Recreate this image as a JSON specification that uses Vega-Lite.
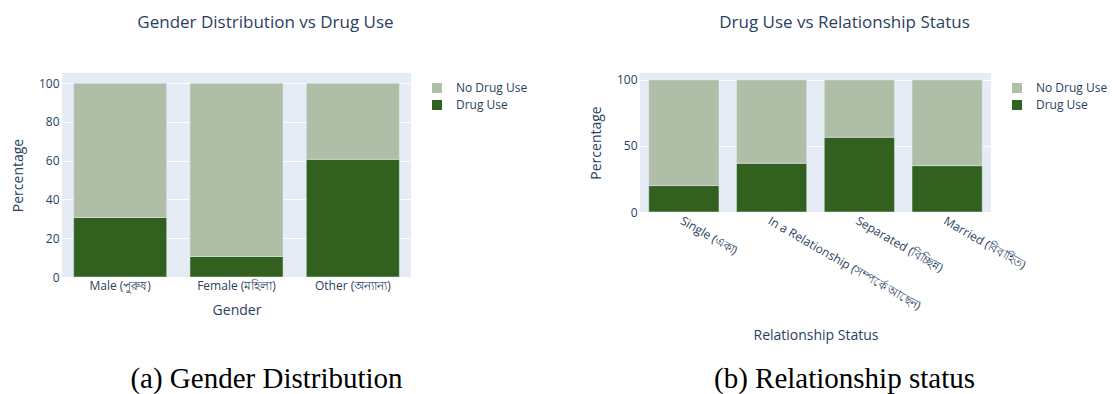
{
  "$schema": "https://vega.github.io/schema/vega-lite/v6.json",
  "background": "white",
  "padding": {"left": 11, "top": 14, "right": 4, "bottom": 0},
  "datasets": {
    "gender": [
      {"gender": "Male (পুরুষ)", "use": "Drug Use", "pct": 30.7},
      {"gender": "Male (পুরুষ)", "use": "No Drug Use", "pct": 69.3},
      {"gender": "Female (মহিলা)", "use": "Drug Use", "pct": 10.6},
      {"gender": "Female (মহিলা)", "use": "No Drug Use", "pct": 89.4},
      {"gender": "Other (অন্যান্য)", "use": "Drug Use", "pct": 60.7},
      {"gender": "Other (অন্যান্য)", "use": "No Drug Use", "pct": 39.3}
    ],
    "relationship": [
      {"status": "Single (একা)", "use": "Drug Use", "pct": 20.0},
      {"status": "Single (একা)", "use": "No Drug Use", "pct": 80.0},
      {"status": "In a Relationship (সম্পর্কে আছেন)", "use": "Drug Use", "pct": 36.9},
      {"status": "In a Relationship (সম্পর্কে আছেন)", "use": "No Drug Use", "pct": 63.1},
      {"status": "Separated (বিচ্ছিন্ন)", "use": "Drug Use", "pct": 56.6},
      {"status": "Separated (বিচ্ছিন্ন)", "use": "No Drug Use", "pct": 43.4},
      {"status": "Married (বিবাহিত)", "use": "Drug Use", "pct": 35.1},
      {"status": "Married (বিবাহিত)", "use": "No Drug Use", "pct": 64.9}
    ],
    "captions": [
      {"panel": "a", "caption": "(a) Gender Distribution"},
      {"panel": "b", "caption": "(b) Relationship status"}
    ]
  },
  "columns": 2,
  "spacing": {"column": 229, "row": 92},
  "bounds": "flush",
  "resolve": {"scale": {"color": "independent"}, "legend": {"color": "independent"}},
  "concat": [
    {
      "title": {"text": "Gender Distribution vs Drug Use"},
      "width": 349,
      "height": 204,
      "data": {"name": "gender"},
      "mark": {"type": "bar", "stroke": "#E5ECF6", "strokeWidth": 0.5},
      "encoding": {
        "x": {
          "field": "gender", "type": "nominal", "sort": null,
          "scale": {"paddingInner": 0.2, "paddingOuter": 0.1},
          "axis": {"title": "Gender", "labelAngle": 0, "titlePadding": 12}
        },
        "y": {
          "field": "pct", "type": "quantitative", "stack": "zero",
          "scale": {"domain": [0, 105.26], "nice": false},
          "axis": {"title": "Percentage", "values": [0, 20, 40, 60, 80, 100], "titlePadding": 13}
        },
        "color": {
          "field": "use", "type": "nominal",
          "scale": {"domain": ["No Drug Use", "Drug Use"], "range": ["#afbea6", "#31601f"]},
          "legend": {"title": null, "orient": "none", "legendX": 369, "legendY": 9}
        },
        "order": {"field": "use", "sort": "ascending"}
      }
    },
    {
      "title": {"text": "Drug Use vs Relationship Status"},
      "width": 351,
      "height": 139,
      "data": {"name": "relationship"},
      "mark": {"type": "bar", "stroke": "#E5ECF6", "strokeWidth": 0.5},
      "encoding": {
        "x": {
          "field": "status", "type": "nominal", "sort": null,
          "scale": {"paddingInner": 0.2, "paddingOuter": 0.1},
          "axis": {"title": "Relationship Status", "labelAngle": 30, "titlePadding": 17}
        },
        "y": {
          "field": "pct", "type": "quantitative", "stack": "zero",
          "scale": {"domain": [0, 105.26], "nice": false},
          "axis": {"title": "Percentage", "values": [0, 50, 100], "titlePadding": 13}
        },
        "color": {
          "field": "use", "type": "nominal",
          "scale": {"domain": ["No Drug Use", "Drug Use"], "range": ["#afbea6", "#31601f"]},
          "legend": {"title": null, "orient": "none", "legendX": 371, "legendY": 9}
        },
        "order": {"field": "use", "sort": "ascending"}
      }
    },
    {
      "width": 349,
      "height": 20,
      "view": {"fill": null, "stroke": null},
      "data": {"name": "captions"},
      "transform": [{"filter": "datum.panel === 'a'"}],
      "mark": {"type": "text", "font": "Liberation Serif", "fontSize": 29, "color": "black", "dx": 30},
      "encoding": {"text": {"field": "caption", "type": "nominal"}}
    },
    {
      "width": 351,
      "height": 20,
      "view": {"fill": null, "stroke": null},
      "data": {"name": "captions"},
      "transform": [{"filter": "datum.panel === 'b'"}],
      "mark": {"type": "text", "font": "Liberation Serif", "fontSize": 29, "color": "black", "dx": 29},
      "encoding": {"text": {"field": "caption", "type": "nominal"}}
    }
  ],
  "config": {
    "font": "Open Sans",
    "view": {"fill": "#E5ECF6", "stroke": null},
    "title": {
      "font": "Open Sans", "fontSize": 17, "fontWeight": "normal", "color": "#2a3f5f",
      "anchor": "middle", "dx": 29, "offset": 41, "baseline": "middle"
    },
    "axis": {
      "labelFont": "Open Sans", "labelFontSize": 12, "labelColor": "#2a3f5f",
      "titleFont": "Open Sans", "titleFontSize": 14, "titleFontWeight": "normal", "titleColor": "#2a3f5f",
      "domain": false, "ticks": false, "labelPadding": 3,
      "gridColor": "white", "gridWidth": 1, "gridOpacity": 1
    },
    "axisX": {"grid": false},
    "axisY": {"grid": true},
    "legend": {
      "padding": 0, "symbolType": "square", "symbolSize": 100, "symbolStrokeWidth": 0,
      "labelFont": "Open Sans", "labelFontSize": 12, "labelColor": "#2a3f5f",
      "labelOffset": 13, "rowPadding": 5
    }
  }
}
